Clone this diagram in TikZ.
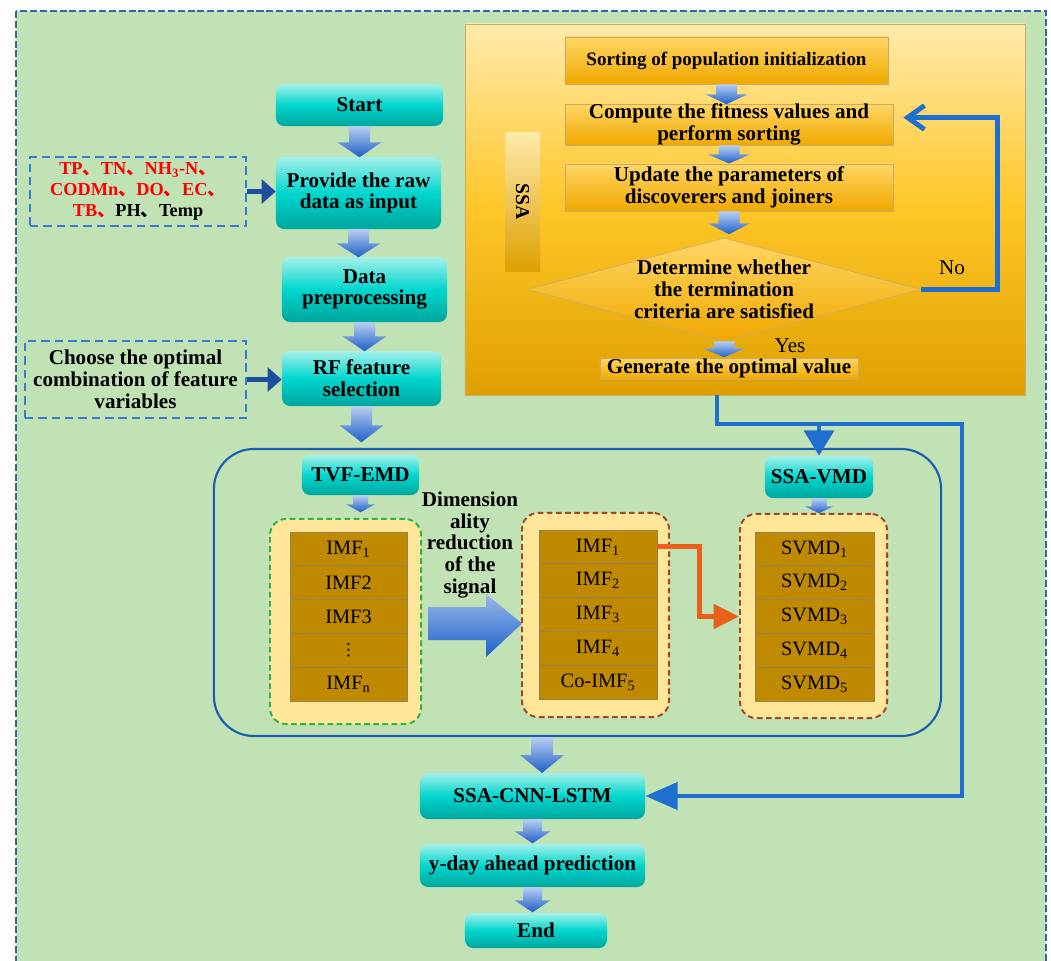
\documentclass[tikz,border=0pt]{standalone}
\usepackage{fontspec}
\setmainfont{Liberation Serif}
\newfontfamily\cjk{Noto Sans CJK SC}
\newfontfamily\symfont{DejaVu Sans}
\usetikzlibrary{shapes.geometric,arrows.meta}

\definecolor{bggreen}{RGB}{192,226,181}
\definecolor{framblue}{RGB}{50,100,175}
\definecolor{tealtop}{RGB}{165,240,234}
\definecolor{tealmid}{RGB}{0,214,206}
\definecolor{tealbot}{RGB}{0,166,158}
\definecolor{arrtop}{RGB}{184,206,242}
\definecolor{arrbot}{RGB}{30,96,200}
\definecolor{ssatop}{RGB}{255,234,170}
\definecolor{ssamid}{RGB}{255,198,40}
\definecolor{ssabot}{RGB}{222,160,0}
\definecolor{otop}{RGB}{255,214,100}
\definecolor{obot}{RGB}{240,168,0}
\definecolor{oedge}{RGB}{200,170,110}
\definecolor{lineblue}{RGB}{31,111,209}
\definecolor{contblue}{RGB}{27,93,176}
\definecolor{navy}{RGB}{31,78,158}
\definecolor{orarr}{RGB}{232,96,28}
\definecolor{grpgreen}{RGB}{46,179,74}
\definecolor{grpbrown}{RGB}{160,72,36}
\definecolor{grpfill}{RGB}{255,230,153}
\definecolor{cellfill}{RGB}{192,138,0}
\definecolor{celledge}{RGB}{150,130,90}
\definecolor{dashblue}{RGB}{58,123,213}

\newcommand{\boxfont}{\fontsize{15}{15.5}\selectfont\bfseries}
\newcommand{\cellfont}{\fontsize{14.5}{15}\selectfont}
\newcommand{\ideocomma}{{\cjk 、}}

\tikzset{
  tealbox/.style={rounded corners=0.2cm, top color=tealtop, bottom color=tealbot, middle color=tealmid, inner sep=0pt, align=center, font=\boxfont},
  obox/.style={top color=otop, bottom color=obot, draw=oedge, line width=0.4pt, inner sep=0pt, align=center, font=\boxfont},
  rawbox/.style={draw=dashblue, line width=1.2pt, dash pattern=on 6pt off 3.5pt, inner sep=0pt, align=center},
  grp/.style={fill=grpfill, line width=1.4pt, dash pattern=on 4pt off 2.5pt, rounded corners=0.4cm, inner sep=0pt},
  cell/.style={fill=cellfill, draw=celledge, line width=0.6pt, inner sep=0pt, minimum height=0.845cm, font=\cellfont},
  bline/.style={draw=lineblue, line width=3.5pt},
  navyarr/.style={draw=navy, line width=3.5pt, -{Triangle[length=10pt,width=17pt]}},
  orline/.style={draw=orarr, line width=3.5pt, -{Triangle[length=18pt,width=17pt]}},
  pics/blk/.style n args={4}{code={
    \shade[top color=arrtop, bottom color=arrbot] (-#2,0) -- (#2,0) -- (#2,#4) -- (#3,#4) -- (0,#1) -- (-#3,#4) -- (-#2,#4) -- cycle;
  }},
}

\begin{document}
\begin{tikzpicture}[x=0.025cm,y=-0.025cm]
\useasboundingbox (0,0) rectangle (1051,960);
\fill[white] (0,0) rectangle (1051,960);
\draw[fill=bggreen, draw=framblue, line width=1.4pt, dash pattern=on 5pt off 2pt] (16,11) rectangle (1046,975);

\node[tealbox, minimum width=4.175cm, minimum height=1.05cm] (start) at (359.5,105) {Start};
\node[tealbox, minimum width=4.125cm, minimum height=1.8cm] (input) at (358.5,193) {Provide the raw\\data as input};
\node[tealbox, minimum width=4.125cm, minimum height=1.625cm] (prep) at (364.5,289.5) {Data\\preprocessing};
\node[tealbox, minimum width=3.975cm, minimum height=1.375cm] (rf) at (361.5,378.5) {RF feature\\selection};

\node[rawbox, minimum width=5.4cm, minimum height=1.725cm, font=\fontsize{13}{15}\selectfont\bfseries] (raw) at (138,191.5)
  {{\color{red}TP\ideocomma TN\ideocomma NH\textsubscript{3}-N\ideocomma}\\{\color{red}CODMn\ideocomma DO\ideocomma EC\ideocomma}\\{\color{red}TB\ideocomma}PH\ideocomma Temp};
\node[rawbox, minimum width=5.525cm, minimum height=1.925cm, font=\boxfont] (choose) at (135.5,379.5)
  {Choose the optimal\\combination of feature\\variables};
\draw[navyarr] (raw.east) -- (raw.east -| input.west);
\draw[navyarr] (choose.east) -- (choose.east -| rf.west);

\pic at (start.south) {blk={31}{10.5}{22}{16}};
\pic at (input.south) {blk={28}{10.5}{22}{14}};
\pic at (prep.south) {blk={29}{10.5}{22}{14}};
\pic at (rf.south) {blk={36}{10.5}{22}{19}};

% SSA part
\node[top color=ssatop, bottom color=ssabot, middle color=ssamid, draw=oedge, line width=0.6pt, minimum width=14cm, minimum height=9.275cm] (ssa) at (745,209.5) {};
\node[top color=ssatop, bottom color=ssabot, minimum width=0.875cm, minimum height=3.45cm] (bar) at (522.5,202) {};
\node[rotate=-90, font=\fontsize{14}{15}\selectfont\bfseries] (ssalbl) at (bar) {SSA};
\node[obox, minimum width=8.075cm, minimum height=1.175cm, font=\fontsize{13.5}{15}\selectfont\bfseries] (sort) at (726.5,60.5) {Sorting of population initialization};
\node[obox, minimum width=8.2cm, minimum height=0.975cm] (comp) at (729,124.5) {Compute the fitness values and\\perform sorting};
\node[obox, minimum width=8.2cm, minimum height=1.175cm] (upd) at (729,187.5) {Update the parameters of\\discoverers and joiners};
\node[diamond, top color=otop, bottom color=obot, draw=oedge, line width=0.4pt, minimum width=9.85cm, minimum height=2.575cm, inner sep=0pt] (dia) at (724,289.5) {};
\node[font=\boxfont, align=center] (diatxt) at (dia) {Determine whether\\the termination\\criteria are satisfied};
\node[obox, minimum width=6.45cm, minimum height=0.525cm] (gen) at (729,368.5) {Generate the optimal value};
\node[font=\fontsize{15}{16}\selectfont] (yes) at (790,346) {Yes};
\node[font=\fontsize{15}{16}\selectfont] (no) at (952,268) {No};

\pic at (sort.south) {blk={20}{10.5}{21}{10}};
\pic at (comp.south) {blk={18}{10.5}{21}{9}};
\pic at (upd.south) {blk={23}{10.5}{21}{12}};
\pic at (dia.south) {blk={16}{10.5}{21}{7}};

\draw[bline, -{Straight Barb[length=12pt,width=17pt]}] (dia.east) -- ++(76,0) |- ([shift={(10,-7)}]comp.east);

% decomposition part
\node[draw=contblue, line width=1.5pt, rounded corners=1cm, minimum width=18.175cm, minimum height=7.175cm] (cont) at (577.5,592.5) {};
\node[tealbox, minimum width=2.925cm, minimum height=1cm] (tvf) at (360.5,475) {TVF-EMD};
\node[tealbox, minimum width=2.7cm, minimum height=1.05cm] (vmd) at (819,477) {SSA-VMD};
\node[grp, draw=grpgreen, minimum width=3.775cm, minimum height=5.125cm] (grpa) at (345.5,621.5) {};
\node[grp, draw=grpbrown, minimum width=3.675cm, minimum height=5.1cm] (grpb) at (595.5,615) {};
\node[grp, draw=grpbrown, minimum width=3.675cm, minimum height=5.1cm] (grpc) at (813.5,616) {};
\pic at (tvf.south) {blk={17}{7.5}{14.5}{9}};
\pic at (vmd.south) {blk={15}{7.5}{14.5}{8}};

\foreach \t [count=\i] in {IMF\textsubscript{1}, IMF2, IMF3, {\symfont\fontsize{12}{13}\selectfont ⋮}, IMF\textsubscript{n}}
  \node[cell, minimum width=2.925cm] (a\i) at (348.5,{532+33.8*\i-16.9}) {\t};
\foreach \t [count=\i] in {IMF\textsubscript{1}, IMF\textsubscript{2}, IMF\textsubscript{3}, IMF\textsubscript{4}, Co-IMF\textsubscript{5}}
  \node[cell, minimum width=2.95cm] (b\i) at (598,{530+33.8*\i-16.9}) {\t};
\foreach \i in {1,...,5}
  \node[cell, minimum width=2.975cm] (c\i) at (814.5,{532+33.8*\i-16.9}) {SVMD\textsubscript{\i}};

\node[font=\boxfont, align=center] (dimtxt) at (470,545) {Dimension\\ality\\reduction\\of the\\signal};
\shade[top color=arrtop!80!arrbot, bottom color=arrbot] (428,607) -- (486,607) -- (486,594) -- (522,623.5) -- (486,657) -- (486,640) -- (428,640) -- cycle;
\draw[orline] (b1.east) -- ++(42,0) |- (grpc.west |- c3.west);

% output part
\node[tealbox, minimum width=5.625cm, minimum height=1.15cm] (lstm) at (532.5,796) {SSA-CNN-LSTM};
\node[tealbox, minimum width=5.625cm, minimum height=1.075cm] (pred) at (532.5,865.5) {y-day ahead prediction};
\node[tealbox, minimum width=3.55cm, minimum height=0.875cm] (end) at (536,930.5) {End};
\pic at (542,737) {blk={36}{11}{22}{18}};
\pic at (lstm.south) {blk={24}{9.5}{18}{12}};
\pic at (pred.south) {blk={25}{9.5}{18}{13}};

\coordinate (j1) at (717,424);
\coordinate (j2) at (962,424);
\draw[bline, -{Triangle[length=23pt,width=19pt]}] (ssa.south -| j1) -- (j1) -- (j2) |- (lstm.east);
\draw[bline, -{Triangle[length=18pt,width=21pt]}] (vmd.north |- j1) -- (vmd.north);
\end{tikzpicture}
\end{document}
